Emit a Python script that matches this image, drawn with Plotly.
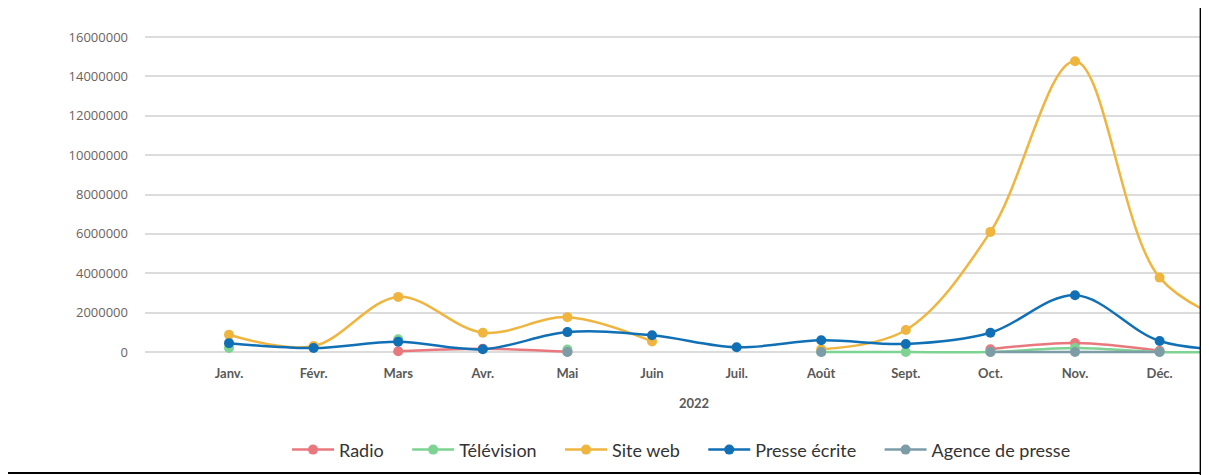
import plotly.graph_objects as go

# 13th point ("Janv." 2023) lies just off the right edge of the picture
mois = ["Janv.", "Févr.", "Mars", "Avr.", "Mai", "Juin", "Juil.",
        "Août", "Sept.", "Oct.", "Nov.", "Déc.", "Janv."]

radio = [None, None, 40000, 170000, 10000, None, None,
         None, None, 140000, 460000, 60000, None]
television = [200000, None, 650000, None, 130000, None, None,
              0, 0, 0, 200000, 0, 0]
site_web = [880000, 300000, 2800000, 980000, 1770000, 540000, None,
            140000, 1120000, 6100000, 14770000, 3780000, 1300000]
presse_ecrite = [450000, 200000, 520000, 140000, 1010000, 850000, 240000,
                 600000, 410000, 980000, 2880000, 560000, 100000]
agence_presse = [None, None, None, None, 0, None, None,
                 0, None, 0, 0, 0, None]

series = [
    ("Radio", radio, "#E8787E"),
    ("Télévision", television, "#7ED392"),
    ("Site web", site_web, "#EFB53F"),
    ("Presse écrite", presse_ecrite, "#1170B5"),
    ("Agence de presse", agence_presse, "#7C9CA8"),
]

x_idx = list(range(len(mois)))
pad = "\u00a0" * 4  # extra room between legend entries

fig = go.Figure()
for i, (nom, valeurs, couleur) in enumerate(series):
    fig.add_trace(go.Scatter(
        x=x_idx, y=valeurs, name=nom + (pad if i < len(series) - 1 else ""),
        mode="lines+markers",
        line=dict(color=couleur, width=2.5, shape="spline", smoothing=1),
        marker=dict(color=couleur, size=10),
        connectgaps=False,
    ))

# --- axes ---
fig.update_xaxes(
    range=[-0.993, 11.56],
    tickvals=x_idx, ticktext=mois,
    showgrid=False, zeroline=False, showline=False,
    ticklabelstandoff=4,
    tickfont=dict(family="Lato", size=13, color="#595959", weight="bold"),
)
fig.update_yaxes(
    range=[-406000, 16508000],
    tickvals=list(range(0, 16000001, 2000000)),
    tickformat="d",
    showgrid=True, gridcolor="#DCDCDC", gridwidth=2,
    zeroline=False, showline=False,
    ticklabelstandoff=16,
    tickfont=dict(family="Open Sans", size=13, color="#6B6262"),
)

fig.add_annotation(
    x=5.5, xref="x", y=-0.13, yref="paper", yanchor="middle",
    text="<b>2022</b>", showarrow=False,
    font=dict(family="Lato", size=13, color="#595959"),
)

# black frame edges of the screenshot
fig.add_shape(type="line", xref="paper", yref="paper",
              x0=0.994, x1=0.994, y0=1.1, y1=-0.35,
              line=dict(color="black", width=2))
fig.add_shape(type="line", xref="paper", yref="paper",
              x0=-0.2, x1=1.01, y0=-0.3393, y1=-0.3393,
              line=dict(color="black", width=2))

# page body has an 8px margin, so the figure is 8px smaller than the window
fig.update_layout(
    width=1201, height=467,
    margin=dict(l=137, r=2, t=19, b=115),
    paper_bgcolor="white", plot_bgcolor="white",
    showlegend=True,
    legend=dict(
        orientation="h", x=0.5052, xanchor="center",
        y=-0.27, yanchor="middle",
        font=dict(family="Lato", size=18, color="#333333"),
        itemwidth=42,
    ),
)

fig.write_html("out.html")
